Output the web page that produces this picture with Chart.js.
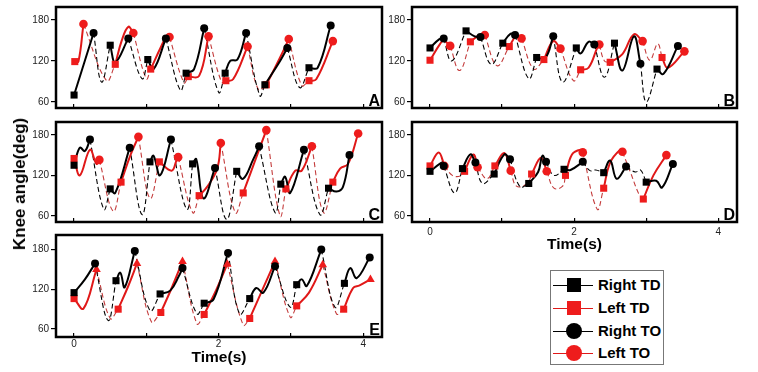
<!DOCTYPE html>
<html lang="en">
<head>
<meta charset="UTF-8">
<title>Knee angle</title>
<script src="https://cdn.jsdelivr.net/npm/chart.js"></script>
<style>
  body { margin: 0; background: #fff; font-family: 'Liberation Sans', Arial, sans-serif; }
  #wrap { position: relative; width: 758px; height: 372px; overflow: hidden; }
  #wrap canvas { position: absolute; }
  #ytitle {
    position: absolute; left: 20px; top: 184px; white-space: nowrap;
    transform: translate(-50%, -50%) rotate(-90deg);
    font-weight: bold; font-size: 17px; color: #000;
  }
  #legend {
    position: absolute; left: 550px; top: 270px; width: 114px; height: 95px;
    border: 1px solid #777; box-sizing: border-box;
  }
  .row { position: absolute; left: 0; width: 100%; height: 20px; }
  .row .ln { position: absolute; left: 2px; top: 10px; width: 40px; height: 1px; }
  .row .mk { position: absolute; }
  .row .sq { left: 16px; top: 3px; width: 14px; height: 14px; }
  .row .ci { left: 15px; top: 2px; width: 16px; height: 16px; border-radius: 50%; }
  .row span { position: absolute; left: 47px; top: 0; line-height: 20px; font-weight: bold; font-size: 15px; color: #000; }
</style>
</head>
<body>
<div id="wrap">
  <canvas id="cA"></canvas>
  <canvas id="cB"></canvas>
  <canvas id="cC"></canvas>
  <canvas id="cD"></canvas>
  <canvas id="cE"></canvas>
  <div id="ytitle">Knee angle(deg)</div>
  <div id="legend">
    <div class="row" style="top:4px"><div class="ln" style="background:#000"></div><div class="mk sq" style="background:#000"></div><span>Right TD</span></div>
    <div class="row" style="top:27px"><div class="ln" style="background:#e01818"></div><div class="mk sq" style="background:#ee1c1c"></div><span>Left TD</span></div>
    <div class="row" style="top:50px"><div class="ln" style="background:#000"></div><div class="mk ci" style="background:#000"></div><span>Right TO</span></div>
    <div class="row" style="top:72px"><div class="ln" style="background:#e01818"></div><div class="mk ci" style="background:#ee1c1c"></div><span>Left TO</span></div>
  </div>
</div>

<script>
  // tick values
  const xTicks = [0, 1, 2, 3, 4];
  const xLabelTicks = [0, 2, 4];
  const yTicks = [60, 120, 180];

  // each stance runs from touch-down (first point) to toe-off (last point), [time s, angle deg]
  // swing arrays hold the points between one toe-off and the next touch-down
  const aRightStance = [
    [[0, 70], [0.27, 161]],
    [[0.5, 143], [0.57, 118], [0.75, 153]],
    [[1.02, 122], [1.1, 108], [1.27, 153]],
    [[1.55, 102], [1.66, 108], [1.8, 168]],
    [[2.09, 102], [2.16, 120], [2.26, 122], [2.38, 161]],
    [[2.64, 85], [2.85, 120], [2.95, 139]],
    [[3.25, 110], [3.37, 110], [3.55, 172]]
  ];
  const aRightSwing = [[[0.38, 89]], [[0.94, 94]], [[1.47, 77]], [[2.0, 74]], [[2.57, 69]], [[3.12, 81]]];
  const aLeftStance = [
    [[0.01, 119], [0.06, 119], [0.13, 174]],
    [[0.57, 115], [0.66, 150], [0.75, 170], [0.82, 161]],
    [[1.06, 108], [1.2, 140], [1.28, 156], [1.32, 155]],
    [[1.58, 97], [1.73, 98], [1.86, 156]],
    [[2.1, 91], [2.2, 93], [2.4, 141]],
    [[2.66, 85], [2.85, 125], [2.97, 152]],
    [[3.25, 91], [3.35, 93], [3.58, 149]]
  ];
  const aLeftSwing = [[[0.45, 91]], [[1.0, 94]], [[1.52, 88]], [[2.04, 89]], [[2.55, 78]], [[3.15, 84]]];

  const bRightStance = [
    [[0, 139], [0.13, 152], [0.19, 153]],
    [[0.5, 164], [0.62, 156], [0.7, 155]],
    [[1.01, 146], [1.12, 160], [1.18, 158]],
    [[1.48, 125], [1.6, 124], [1.71, 156]],
    [[2.03, 139], [2.09, 131], [2.2, 148], [2.28, 144]],
    [[2.56, 146], [2.67, 106], [2.83, 156], [2.92, 116]],
    [[3.15, 108], [3.24, 101], [3.44, 142]]
  ];
  const bRightSwing = [[[0.3, 120]], [[0.85, 115]], [[1.37, 94]], [[1.84, 89]], [[2.42, 96]], [[3.0, 60]]];
  const bLeftStance = [
    [[0, 121], [0.14, 145], [0.19, 150], [0.28, 142]],
    [[0.56, 148], [0.7, 159], [0.76, 158]],
    [[1.1, 141], [1.2, 157], [1.27, 153]],
    [[1.58, 122], [1.71, 149], [1.81, 138]],
    [[2.09, 107], [2.2, 110], [2.32, 139], [2.35, 144]],
    [[2.5, 118], [2.67, 130], [2.83, 159], [2.95, 149]],
    [[3.22, 125], [3.3, 110], [3.53, 134]]
  ];
  const bLeftSwing = [[[0.41, 106]], [[0.93, 113]], [[1.44, 108]], [[1.99, 91]], [[2.42, 120]], [[3.05, 121], [3.16, 145]]];

  const cRightStance = [
    [[0, 135], [0.08, 161], [0.15, 156], [0.22, 173]],
    [[0.5, 100], [0.57, 94], [0.77, 161]],
    [[1.05, 140], [1.1, 149], [1.19, 120], [1.34, 173]],
    [[1.64, 137], [1.69, 144], [1.79, 86], [1.95, 131]],
    [[2.25, 126], [2.34, 115], [2.48, 144], [2.56, 163]],
    [[2.86, 107], [2.92, 118], [2.99, 94], [3.18, 158]],
    [[3.52, 101], [3.63, 96], [3.72, 103], [3.81, 150]]
  ];
  const cRightSwing = [[[0.41, 70]], [[0.94, 62]], [[1.56, 70]], [[2.11, 55]], [[2.78, 65]], [[3.4, 62]]];
  const cLeftStance = [
    [[0, 145], [0.08, 120], [0.22, 158], [0.31, 137], [0.35, 143]],
    [[0.65, 110], [0.78, 150], [0.89, 177]],
    [[1.18, 140], [1.35, 127], [1.42, 143], [1.44, 147]],
    [[1.73, 90], [1.84, 103], [1.98, 130], [2.03, 168]],
    [[2.34, 94], [2.57, 161], [2.66, 187]],
    [[2.93, 100], [3.06, 127], [3.15, 127], [3.29, 163]],
    [[3.58, 110], [3.68, 130], [3.79, 137], [3.93, 182]]
  ];
  const cLeftSwing = [[[0.54, 67]], [[1.05, 86]], [[1.64, 65]], [[2.23, 65]], [[2.85, 60]], [[3.45, 65]]];

  const dRightStance = [
    [[0, 126], [0.17, 139], [0.19, 134]],
    [[0.45, 130], [0.56, 151], [0.63, 139]],
    [[0.89, 122], [1.03, 151], [1.11, 144]],
    [[1.37, 108], [1.5, 125], [1.56, 149], [1.61, 140]],
    [[1.86, 129], [1.95, 128], [2.12, 140]],
    [[2.41, 124], [2.5, 142], [2.59, 115], [2.72, 133]],
    [[3.0, 110], [3.14, 112], [3.22, 102], [3.37, 137]]
  ];
  const dRightSwing = [[[0.34, 94]], [[0.73, 108]], [[1.25, 103]], [[1.72, 120]], [[2.22, 127], [2.3, 128]], [[2.85, 125], [2.92, 128]]];
  const dLeftStance = [
    [[0, 134], [0.12, 154], [0.2, 134]],
    [[0.48, 126], [0.6, 151], [0.66, 132]],
    [[0.9, 134], [1.03, 153], [1.12, 127]],
    [[1.41, 122], [1.54, 146], [1.62, 126]],
    [[1.88, 120], [1.97, 151], [2.09, 158], [2.12, 154]],
    [[2.41, 101], [2.5, 139], [2.64, 158], [2.67, 155]],
    [[2.96, 85], [3.1, 120], [3.28, 150]]
  ];
  const dLeftSwing = [[[0.31, 120], [0.42, 119]], [[0.79, 115]], [[1.2, 104], [1.35, 108]], [[1.72, 101], [1.84, 104]], [[2.32, 70]], [[2.78, 125], [2.9, 92]]];

  const eRightStance = [
    [[0, 115], [0.15, 135], [0.29, 159]],
    [[0.58, 133], [0.64, 145], [0.7, 123], [0.84, 178]],
    [[1.19, 113], [1.33, 118], [1.45, 140], [1.5, 152]],
    [[1.8, 99], [1.93, 105], [2.13, 175]],
    [[2.43, 106], [2.52, 122], [2.62, 115], [2.78, 155]],
    [[3.08, 127], [3.15, 135], [3.22, 125], [3.42, 180]],
    [[3.74, 129], [3.82, 152], [3.91, 137], [4.09, 168]]
  ];
  const eRightSwing = [[[0.47, 73]], [[1.05, 88]], [[1.7, 83]], [[2.29, 83]], [[2.99, 93]], [[3.61, 93]]];
  const eLeftStance = [
    [[0, 106], [0.13, 91], [0.31, 150]],
    [[0.61, 90], [0.75, 125], [0.87, 159]],
    [[1.2, 85], [1.35, 122], [1.5, 162]],
    [[1.8, 82], [1.97, 120], [2.12, 158]],
    [[2.43, 76], [2.6, 118], [2.78, 162]],
    [[3.08, 95], [3.25, 115], [3.44, 157]],
    [[3.73, 90], [3.86, 122], [3.95, 126], [4.1, 135]]
  ];
  const eLeftSwing = [[[0.5, 76]], [[1.07, 71]], [[1.7, 68]], [[2.34, 66]], [[2.99, 78]], [[3.63, 83]]];

  Chart.defaults.font.family = "'Liberation Sans', Arial, sans-serif";

  const BLACK = '#000';
  const RED = '#e01818';
  const RED_MARK = '#ee1c1c';
  const RED_DASH = '#c43c3c';

  function stanceLine(stances) {
    const pts = [];
    stances.forEach((s, i) => {
      if (i) pts.push({ x: s[0][0], y: null });
      s.forEach(p => pts.push({ x: p[0], y: p[1] }));
    });
    return pts;
  }

  function swingLine(stances, swings) {
    const pts = [];
    swings.forEach((w, i) => {
      const a = stances[i][stances[i].length - 1];
      const b = stances[i + 1][0];
      if (i) pts.push({ x: a[0], y: null });
      [a, ...w, b].forEach(p => pts.push({ x: p[0], y: p[1] }));
    });
    return pts;
  }

  const framePlugin = {
    id: 'frame',
    afterDraw(chart, args, opts) {
      const { ctx, chartArea: a } = chart;
      ctx.save();
      ctx.lineWidth = 2.5;
      ctx.strokeStyle = '#000';
      ctx.strokeRect(a.left, a.top, a.right - a.left, a.bottom - a.top);
      ctx.fillStyle = '#000';
      ctx.font = "bold 16px 'Liberation Sans', Arial, sans-serif";
      ctx.textAlign = 'right';
      ctx.textBaseline = 'alphabetic';
      ctx.fillText(opts.letter, a.right - 2, a.bottom - 2);
      ctx.restore();
    }
  };

  function drawPanel(p) {
    const [L, T, R, B] = p.frame;
    const axisH = 34;
    const cv = document.getElementById(p.id);
    cv.width = R - L + 56 + 6;
    cv.height = B - T + 6 + axisH;
    cv.style.left = (L - 56) + 'px';
    cv.style.top = (T - 6) + 'px';

    const marks = (stances, color, first, style, r) => ({
      data: stances.map(s => { const q = first ? s[0] : s[s.length - 1]; return { x: q[0], y: q[1] }; }),
      showLine: false, pointStyle: style, pointRadius: r, pointHoverRadius: r,
      backgroundColor: color, borderColor: color, borderWidth: 0
    });
    const line = (data, color, width, dash) => ({
      data, borderColor: color, borderWidth: width, borderDash: dash,
      pointRadius: 0, tension: 0.4, spanGaps: false, fill: false
    });

    new Chart(cv, {
      type: 'line',
      data: {
        datasets: [
          marks(p.right[0], BLACK, true, 'rect', 5),
          marks(p.left[0], RED_MARK, true, 'rect', 5),
          marks(p.right[0], BLACK, false, 'circle', 4),
          marks(p.left[0], RED_MARK, false, p.leftTO, p.leftTO === 'triangle' ? 5 : 4.3),
          line(stanceLine(p.right[0]), BLACK, 2, []),
          line(stanceLine(p.left[0]), RED, 2, []),
          line(swingLine(p.right[0], p.right[1]), BLACK, 1.1, [5, 3]),
          line(swingLine(p.left[0], p.left[1]), RED_DASH, 1.1, [5, 3])
        ]
      },
      options: {
        responsive: false,
        animation: false,
        devicePixelRatio: 1,
        layout: { padding: { top: 6, right: 6, left: 0, bottom: 0 } },
        plugins: { legend: { display: false }, tooltip: { enabled: false }, frame: { letter: p.letter } },
        scales: {
          x: {
            type: 'linear', min: -0.25, max: 4.26,
            afterBuildTicks: s => { s.ticks = xTicks.map(v => ({ value: v })); },
            afterFit: s => { s.height = axisH; },
            border: { display: false },
            grid: { drawOnChartArea: false, drawTicks: true, tickLength: -4, color: '#000', lineWidth: 1.2 },
            ticks: {
              autoSkip: false, maxRotation: 0, color: '#222', font: { size: 10 }, padding: p.tickPad,
              callback: v => (p.xLabels && xLabelTicks.includes(v)) ? String(v) : ''
            },
            title: {
              display: p.xLabels, text: 'Time(s)', color: '#000',
              font: { size: 15.5, weight: 'bold' }, padding: { top: 0, bottom: p.titlePad }
            }
          },
          y: {
            min: p.yRange[0], max: p.yRange[1],
            afterBuildTicks: s => { s.ticks = yTicks.map(v => ({ value: v })); },
            afterFit: s => { s.width = 56; },
            border: { display: false },
            grid: { drawOnChartArea: false, drawTicks: true, tickLength: 5, color: '#000', lineWidth: 1.2 },
            ticks: { color: '#222', font: { size: 10 }, padding: 2 }
          }
        }
      },
      plugins: [framePlugin]
    });
  }

  const panels = [
    { id: 'cA', letter: 'A', frame: [56, 5, 382, 108], yRange: [51, 199], right: [aRightStance, aRightSwing], left: [aLeftStance, aLeftSwing], leftTO: 'circle', xLabels: false, tickPad: 8, titlePad: 3 },
    { id: 'cB', letter: 'B', frame: [412, 5, 737, 108], yRange: [51, 199], right: [bRightStance, bRightSwing], left: [bLeftStance, bLeftSwing], leftTO: 'circle', xLabels: false, tickPad: 8, titlePad: 3 },
    { id: 'cC', letter: 'C', frame: [56, 120, 382, 222], yRange: [51, 199], right: [cRightStance, cRightSwing], left: [cLeftStance, cLeftSwing], leftTO: 'circle', xLabels: false, tickPad: 8, titlePad: 3 },
    { id: 'cD', letter: 'D', frame: [412, 120, 737, 222], yRange: [51, 199], right: [dRightStance, dRightSwing], left: [dLeftStance, dLeftSwing], leftTO: 'circle', xLabels: true, tickPad: 8, titlePad: 2 },
    { id: 'cE', letter: 'E', frame: [56, 233, 382, 337], yRange: [48, 202], right: [eRightStance, eRightSwing], left: [eLeftStance, eLeftSwing], leftTO: 'triangle', xLabels: true, tickPad: 5, titlePad: 4 }
  ];

  panels.forEach(drawPanel);
</script>
</body>
</html>
